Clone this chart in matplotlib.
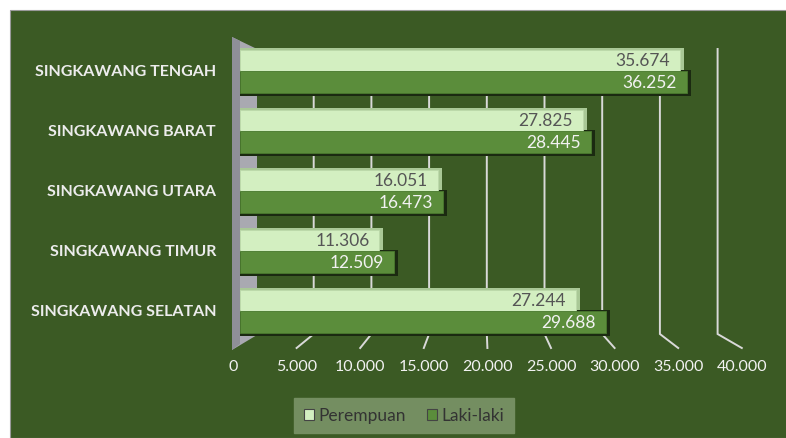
import matplotlib.pyplot as plt
from matplotlib.patches import Rectangle, Polygon
import numpy as np

plt.rcParams['font.family'] = ['Lato', 'DejaVu Sans']

# data (bottom to top as drawn)
kecamatan = ['SINGKAWANG SELATAN', 'SINGKAWANG TIMUR', 'SINGKAWANG UTARA',
             'SINGKAWANG BARAT', 'SINGKAWANG TENGAH']
perempuan = [27244, 11306, 16051, 27825, 35674]
laki_laki = [29688, 12509, 16473, 28445, 36252]
ticks = [0, 5000, 10000, 15000, 20000, 25000, 30000, 35000, 40000]

BG = '#3b5a24'
LIGHT = '#d3efc1'
LIGHT_SIDE = '#a9c896'
DARK = '#5b8d3b'
DARK_SIDE = '#1b2a11'
GRID = '#d9d9d9'
WALL = '#a9a9b1'

W, H = 786, 439
# pixel geometry of the bar plane
X0_PX = 240
PX_PER_UNIT = 0.01233
Y0_PX = 312
ROW_PX = 60.0


def xd(px):
    return (px - X0_PX) / PX_PER_UNIT


def yd(py):
    return (Y0_PX - py) / ROW_PX


def fmt(v):
    return f'{v:,}'.replace(',', '.')


fig = plt.figure(figsize=(W / 100, H / 100), dpi=100, facecolor='white')
fig.patches.append(Rectangle((10 / W, 0), 1, 1 - 11 / H, transform=fig.transFigure,
                             facecolor=BG, edgecolor='#9a9a9a', lw=0.8, zorder=-5))

ax = fig.add_axes([0, 0, 1, 1], zorder=1)
ax.set_xlim(xd(0), xd(W))
ax.set_ylim(yd(H), yd(0))
ax.axis('off')

# left wall (3d side)
ax.add_patch(Polygon([(xd(232), yd(38)), (xd(257), yd(50)), (xd(257), yd(336)),
                      (xd(232), yd(351))], closed=True, facecolor=WALL, edgecolor='none', zorder=1))
ax.add_patch(Polygon([(xd(232), yd(38)), (xd(240), yd(42)), (xd(240), yd(345)),
                      (xd(232), yd(351))], closed=True, facecolor='#8f8f98', edgecolor='none', zorder=1))

# gridlines: back plane + floor diagonal to front labels
for v in ticks[1:]:
    bx = xd(256 + v * 0.01154)
    fx = xd(233 + v * 0.01272)
    ax.plot([bx, bx, fx], [yd(50), yd(335), yd(349)], color=GRID, lw=1.4, zorder=1,
            solid_joinstyle='miter')

for i, v in enumerate(ticks):
    ax.text(xd(233 + v * 0.01272), yd(367), fmt(v), ha='center', va='center',
            fontsize=11.5, color='#f2f2f2')

# bars
h = 21.5 / ROW_PX
side = 4 / PX_PER_UNIT
idx = np.arange(len(kecamatan))
ax.barh(idx + h / 2 + 1.5 / ROW_PX, [p + side for p in perempuan], height=h, left=0,
        color=LIGHT_SIDE, zorder=2)
ax.barh(idx + h / 2, perempuan, height=h, left=0, color=LIGHT, edgecolor='#bcd9aa',
        lw=0.6, zorder=3)
ax.barh(idx - h / 2 - 1 / ROW_PX, [l + side for l in laki_laki], height=h + 4 / ROW_PX,
        left=0, color=DARK_SIDE, zorder=2)
ax.barh(idx - h / 2, laki_laki, height=h, left=0, color=DARK, edgecolor='#4a7a2e',
        lw=0.6, zorder=3)

pad = 10 / PX_PER_UNIT
for i in idx:
    ax.text(perempuan[i] - pad, i + h / 2, fmt(perempuan[i]), ha='right', va='center',
            fontsize=12.5, color='#555555', zorder=4)
    ax.text(laki_laki[i] - pad, i - h / 2, fmt(laki_laki[i]), ha='right', va='center',
            fontsize=12.5, color='#f2f2f2', zorder=4)
    ax.text(xd(216), i, kecamatan[i], ha='right', va='center', fontsize=11.5,
            fontweight='bold', color='#ececec')

# legend
handles = [Rectangle((0, 0), 1, 1, facecolor=LIGHT, edgecolor='#444444', lw=0.8),
           Rectangle((0, 0), 1, 1, facecolor=DARK, edgecolor='#444444', lw=0.8)]
leg = fig.legend(handles, ['Perempuan', 'Laki-laki'], loc='center',
                 bbox_to_anchor=(404 / W, 1 - 416.5 / H), ncol=2, frameon=True,
                 fancybox=False, facecolor='#748e61', edgecolor='#748e61', framealpha=1,
                 fontsize=12.5, handlelength=0.6, handleheight=0.6, handletextpad=0.25,
                 columnspacing=1.2, borderpad=0.55, labelcolor='#333333')
leg.set_zorder(5)

fig.savefig('out.png', dpi=100, facecolor='white')
